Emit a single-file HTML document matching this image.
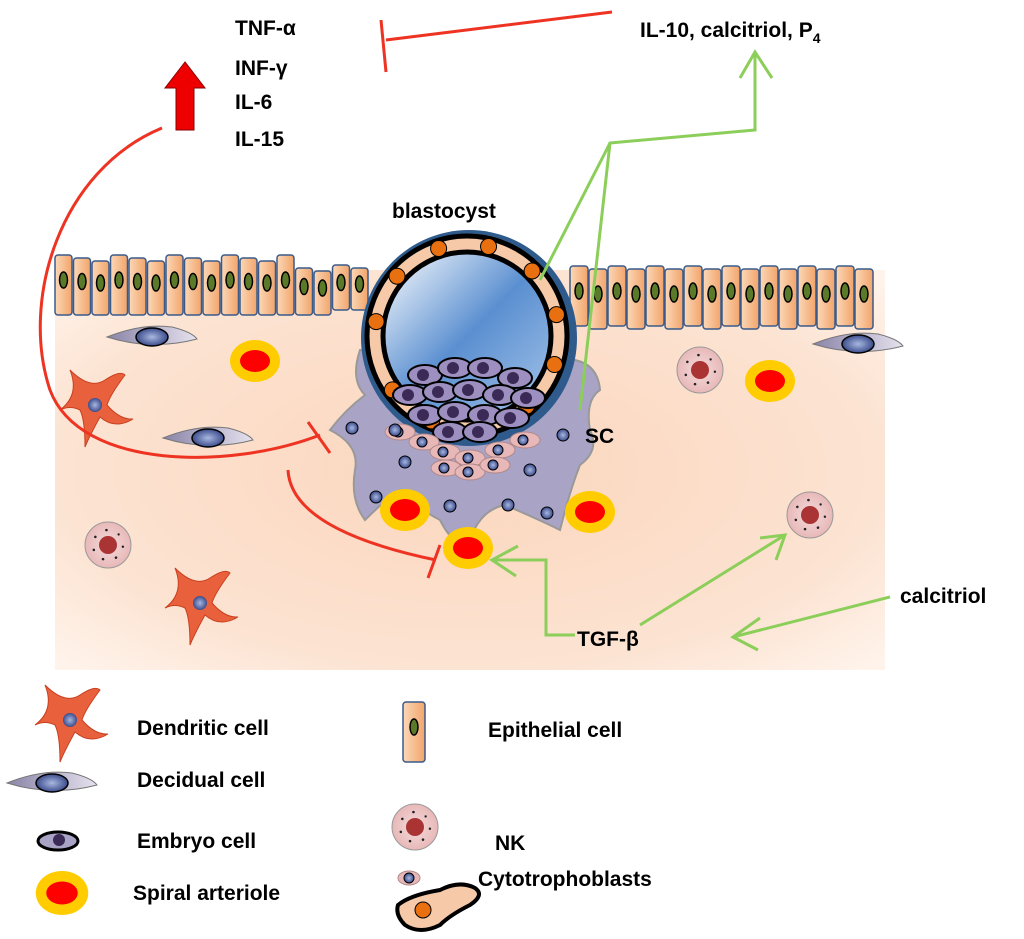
<!DOCTYPE html>
<html><head><meta charset="utf-8"><style>
body{margin:0;background:#fff}
svg{display:block}
text{font-family:"Liberation Sans",sans-serif;font-weight:bold;fill:#000}
</style></head><body>
<svg id="s" width="1024" height="939" viewBox="0 0 1024 939" xmlns="http://www.w3.org/2000/svg">
<defs>
<radialGradient id="tis" cx="0.5" cy="0.5" r="0.7">
<stop offset="0" stop-color="#fbd6bd"/><stop offset="0.7" stop-color="#fce3d2"/><stop offset="1" stop-color="#fff4ec"/></radialGradient>
<linearGradient id="epi" x1="0" x2="1"><stop offset="0" stop-color="#fbd8b8"/><stop offset="1" stop-color="#f2a46a"/></linearGradient>
<linearGradient id="blue" x1="0" y1="0" x2="1" y2="1"><stop offset="0" stop-color="#ffffff"/><stop offset="0.5" stop-color="#5a8fd0"/><stop offset="1" stop-color="#a8c6ea"/></linearGradient>
<radialGradient id="nuc"><stop offset="0" stop-color="#a8b8e0"/><stop offset="1" stop-color="#3c4c8c"/></radialGradient>
<radialGradient id="nk"><stop offset="0" stop-color="#f4dcdc"/><stop offset="1" stop-color="#e8b8b8"/></radialGradient>
<linearGradient id="dec" x1="0" x2="1"><stop offset="0" stop-color="#8a84a8"/><stop offset="1" stop-color="#e6e2ee"/></linearGradient>
</defs>
<rect x="55" y="270" width="830" height="400" fill="url(#tis)"/>
<g id="epis"></g>
<g id="decs"></g>
<path d="M360 350 Q350 380 365 395 Q345 410 330 430 Q360 445 355 470 Q350 500 365 520 Q385 500 400 490 Q420 510 440 520 Q455 550 470 540 Q480 510 505 505 Q540 520 560 530 Q570 490 580 465 Q600 450 590 430 Q585 400 600 390 Q598 365 575 360 Z" fill="#a9a3c6" stroke="#999" stroke-width="2"/>
<circle cx="469" cy="338" r="108" fill="#2f5b8c"/>
<circle cx="467" cy="336" r="100" fill="#f6c9a8" stroke="#000" stroke-width="5"/>
<circle cx="467" cy="336" r="84" fill="url(#blue)" stroke="#000" stroke-width="5"/>
<g id="ring"></g>
<g id="emb"></g>
<g id="cyto"></g>
<g id="dots"></g>
<g id="sa"></g>
<g id="dend"></g>
<g id="nks"></g>
<polygon points="185,62 165,88 176,88 176,130 194,130 194,88 205,88" fill="#e00" stroke="#800" stroke-width="1"/>
<g stroke="#e32" stroke-width="3" fill="none">
<line x1="386" y1="40" x2="612" y2="12"/><line x1="381" y1="20" x2="386" y2="72"/>
<path d="M162 128 C60 170 20 300 50 390 C80 470 230 470 320 435"/>
<line x1="308" y1="422" x2="330" y2="453"/>
<path d="M288 470 C290 510 340 540 436 560"/>
<line x1="428" y1="578" x2="440" y2="545"/>
</g>
<g stroke="#8cce5a" stroke-width="3" fill="none">
<polyline points="580,410 610,143 755,130 755,52"/>
<line x1="610" y1="143" x2="540" y2="280"/>
<polyline points="740,78 755,52 772,78"/>
<polyline points="575,635 546,635 546,560 492,560"/>
<polyline points="518,546 492,560 516,576"/>
<line x1="640" y1="625" x2="785" y2="535"/>
<polyline points="760,538 785,535 776,560"/>
<line x1="890" y1="597" x2="733" y2="637"/>
<polyline points="760,618 733,637 758,650"/>
</g>
<g font-size="21">
<text x="235" y="35">TNF-α</text><text x="235" y="75">INF-γ</text><text x="235" y="109">IL-6</text><text x="235" y="146">IL-15</text>
<text x="640" y="37">IL-10, calcitriol, P<tspan font-size="14" dy="6">4</tspan></text>
<text x="392" y="218">blastocyst</text>
<text x="585" y="443">SC</text>
<text x="577" y="646">TGF-β</text>
<text x="900" y="603">calcitriol</text>
<text x="137" y="735">Dendritic cell</text>
<text x="137" y="787">Decidual cell</text>
<text x="137" y="848">Embryo cell</text>
<text x="133" y="900">Spiral arteriole</text>
<text x="488" y="737">Epithelial cell</text>
<text x="495" y="850">NK</text>
<text x="478" y="886">Cytotrophoblasts</text>
</g>
<g id="leg"></g>
</svg>
<script>
const NS="http://www.w3.org/2000/svg";
function add(id,tag,a){const e=document.createElementNS(NS,tag);for(const k in a)e.setAttribute(k,a[k]);document.getElementById(id).appendChild(e);return e;}
function epi(g,x,y,w,h){add(g,'rect',{x:x,y:y,width:w,height:h,rx:3,fill:'url(#epi)',stroke:'#3a5a8a','stroke-width':1.5});add(g,'ellipse',{cx:x+w/2,cy:y+h/2-5,rx:4,ry:8,fill:'#5a7a2a',stroke:'#000','stroke-width':1.5});}
for(let i=0;i<17;i++){let x=55+i*18.5;let t=255+(i%3)*3+(i>12?10:0);epi('epis',x,t,17,60-(t-255)+(i>14?-5:0));}
for(let i=0;i<16;i++){let x=570+i*19;let t=266+(i%2)*3;epi('epis',x,t,18,60);}
function dec(g,cx,cy,s){add(g,'path',{d:`M${cx-45*s} ${cy} Q${cx-10*s} ${cy-14*s} ${cx+20*s} ${cy-10*s} Q${cx+40*s} ${cy-5*s} ${cx+45*s} ${cy+2*s} Q${cx} ${cy+14*s} ${cx-45*s} ${cy}Z`,fill:'url(#dec)',stroke:'#777','stroke-width':1});add(g,'ellipse',{cx:cx,cy:cy,rx:16*s,ry:9*s,fill:'url(#nuc)',stroke:'#000','stroke-width':1.5});}
dec('decs',152,337,1);dec('decs',208,438,1);dec('decs',858,344,1);
function sa(g,cx,cy,s){add(g,'ellipse',{cx:cx,cy:cy,rx:25*s,ry:21*s,fill:'#fc0'});add(g,'ellipse',{cx:cx,cy:cy,rx:15*s,ry:11*s,fill:'#f00'});}
sa('sa',255,361,1);sa('sa',770,381,1);sa('sa',405,510,1);sa('sa',590,512,1);sa('sa',468,548,1);
function dend(g,cx,cy){add(g,'path',{d:`M${cx-25} ${cy-35} Q${cx-5} ${cy-15} ${cx+10} ${cy-25} Q${cx+25} ${cy-35} ${cx+30} ${cy-30} Q${cx+15} ${cy-10} ${cx+12} ${cy} Q${cx+25} ${cy+15} ${cx+38} ${cy+14} Q${cx+20} ${cy+25} ${cx+5} ${cy+12} Q${cx-5} ${cy+30} ${cx-10} ${cy+42} Q${cx-10} ${cy+15} ${cx-15} ${cy+5} Q${cx-25} ${cy} ${cx-35} ${cy+5} Q${cx-15} ${cy-10} ${cx-25} ${cy-35}Z`,fill:'#e8603c',stroke:'#c94020','stroke-width':1});add(g,'circle',{cx:cx,cy:cy,r:7,fill:'url(#nuc)'});}
dend('dend',95,405);dend('dend',200,603);dend('leg',70,720);
function nk(g,cx,cy){add(g,'circle',{cx:cx,cy:cy,r:23,fill:'url(#nk)',stroke:'#999'});add(g,'circle',{cx:cx,cy:cy,r:9,fill:'#a33'});for(let i=0;i<12;i++){let a=i*0.9+1,r=15;add(g,'circle',{cx:cx+Math.cos(a)*r,cy:cy+Math.sin(a)*r,r:1.2,fill:'#222'});}}
nk('nks',700,370);nk('nks',108,545);nk('nks',810,515);nk('leg',415,827);
for(let i=0;i<11;i++){let a=-Math.PI*0.95+i*0.55;let cx=467+Math.cos(a)*92,cy=336+Math.sin(a)*92;add('ring','circle',{cx:cx,cy:cy,r:8,fill:'#e87010',stroke:'#000','stroke-width':1});}
const ep=[[425,375],[455,368],[485,368],[515,378],[410,395],[440,392],[470,390],[500,395],[528,398],[425,415],[455,412],[485,415],[512,418],[450,432],[480,432]];
ep.forEach(p=>{add('emb','ellipse',{cx:p[0],cy:p[1],rx:17,ry:10,fill:'#9d90c0',stroke:'#000','stroke-width':2});add('emb','circle',{cx:p[0]-2,cy:p[1],r:6,fill:'#3a2a55'});});
const cp=[[400,432],[424,442],[445,452],[470,458],[500,450],[525,440],[446,468],[470,472],[495,465]];
cp.forEach(p=>{add('cyto','ellipse',{cx:p[0],cy:p[1],rx:15,ry:8,fill:'#e8b8b8',stroke:'#b08888'});add('cyto','circle',{cx:p[0]-2,cy:p[1],r:5,fill:'url(#nuc)',stroke:'#000'});});
const dp=[[352,428],[376,497],[405,462],[450,506],[508,505],[547,513],[563,435],[530,470],[395,430]];
dp.forEach(p=>add('dots','circle',{cx:p[0],cy:p[1],r:6,fill:'url(#nuc)',stroke:'#000'}));
dec('leg',52,783,1);
add('leg','ellipse',{cx:58,cy:841,rx:20,ry:9,fill:'#a9a3c6',stroke:'#000','stroke-width':3});add('leg','circle',{cx:59,cy:840,r:6,fill:'#3a2a55'});
sa('leg',62,893,1.05);
epi('leg',403,702,22,60);
add('leg','ellipse',{cx:409,cy:878,rx:11,ry:7,fill:'#e8b8b8',stroke:'#b08888'});add('leg','circle',{cx:409,cy:878,r:5,fill:'url(#nuc)',stroke:'#000'});
add('leg','path',{d:'M398 905 Q410 895 440 890 Q460 880 475 888 Q485 895 470 905 Q450 915 440 925 Q420 935 405 925 Q395 915 398 905Z',fill:'#f6c9a8',stroke:'#000','stroke-width':4});
add('leg','circle',{cx:423,cy:910,r:8,fill:'#e87010',stroke:'#000'});
</script>
</body></html>
